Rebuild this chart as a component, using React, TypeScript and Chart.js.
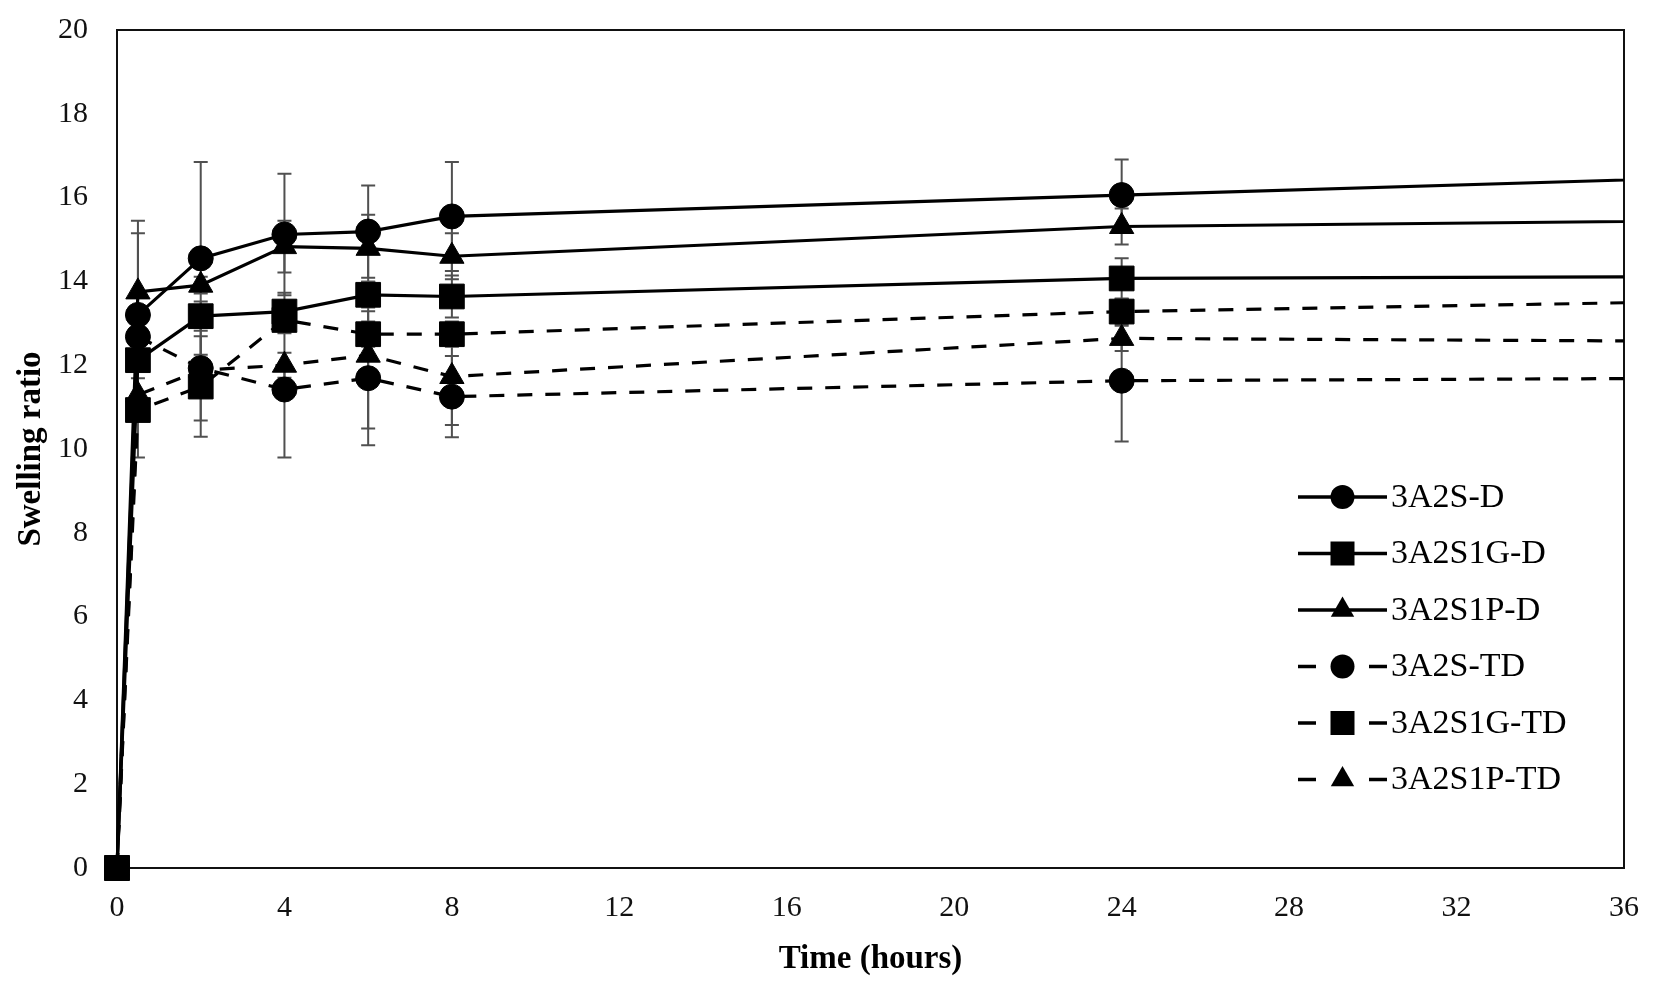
import React, { useEffect, useRef } from 'react';
import { Chart, registerables } from 'chart.js';

Chart.register(...registerables);

// ---- data ----
const times = [0, 0.5, 2, 4, 6, 8, 24, 48];

const labels = ['3A2S-D', '3A2S1G-D', '3A2S1P-D', '3A2S-TD', '3A2S1G-TD', '3A2S1P-TD'];

const s3A2S_D = [0, 13.2, 14.55, 15.12, 15.19, 15.55, 16.06, 16.78];
const s3A2S1G_D = [0, 12.12, 13.17, 13.28, 13.68, 13.64, 14.07, 14.15];
const s3A2S1P_D = [0, 13.75, 13.91, 14.83, 14.79, 14.6, 15.31, 15.55];
const s3A2S_TD = [0, 12.68, 11.93, 11.42, 11.69, 11.25, 11.63, 11.73];
const s3A2S1G_TD = [0, 10.93, 11.49, 13.08, 12.74, 12.74, 13.28, 13.7];
const s3A2S1P_TD = [0, 11.29, 11.88, 12.0, 12.24, 11.73, 12.64, 12.52];

const e3A2S_D = [null, 1.95, 2.3, 1.45, 1.1, 1.3, 0.85, null];
const e3A2S1G_D = [null, null, 0.35, 0.45, 0.3, 0.5, 0.48, null];
const e3A2S1P_D = [null, 1.7, 0.2, 0.62, 0.8, 0.55, 0.43, null];
const e3A2S_TD = [null, null, 1.25, 1.62, 1.6, 0.97, 1.45, null];
const e3A2S1G_TD = [null, 1.13, 1.2, 0.32, 0.3, 0.3, 0.3, null];
const e3A2S1P_TD = [null, 0.4, 0.3, 0.3, 1.75, 1.16, 0.3, null];

const seriesValues = [s3A2S_D, s3A2S1G_D, s3A2S1P_D, s3A2S_TD, s3A2S1G_TD, s3A2S1P_TD];
const seriesErrors = [e3A2S_D, e3A2S1G_D, e3A2S1P_D, e3A2S_TD, e3A2S1G_TD, e3A2S1P_TD];
const seriesMarkers = ['circle', 'rect', 'triangle', 'circle', 'rect', 'triangle'];
const seriesDashed = [false, false, false, true, true, true];

const xMin = 0, xMax = 36, xStep = 4;
const yMin = 0, yMax = 20, yStep = 2;

const FONT = "'Liberation Serif', 'Times New Roman', serif";
const markerRadius: Record<string, number> = { circle: 12.5, rect: 17.5, triangle: 14 };

function drawMarker(ctx: CanvasRenderingContext2D, style: string, x: number, y: number) {
  ctx.beginPath();
  if (style === 'circle') {
    ctx.arc(x, y, 12, 0, Math.PI * 2);
  } else if (style === 'rect') {
    ctx.rect(x - 12, y - 12, 24, 24);
  } else {
    const r = 13.5;
    ctx.moveTo(x, y - r);
    ctx.lineTo(x + r * Math.sin(Math.PI * 2 / 3), y + r * 0.5);
    ctx.lineTo(x - r * Math.sin(Math.PI * 2 / 3), y + r * 0.5);
    ctx.closePath();
  }
  ctx.fill();
}

const boxAndErrorPlugin = {
  id: 'boxAndErrors',
  beforeDatasetsDraw(chart: any) {
    const { ctx, chartArea: a, scales } = chart;
    const x = scales.x, y = scales.y;
    ctx.save();
    ctx.strokeStyle = '#111';
    ctx.lineWidth = 2;
    ctx.strokeRect(a.left, a.top, a.right - a.left, a.bottom - a.top);
    ctx.strokeStyle = '#505050';
    ctx.lineWidth = 2;
    seriesValues.forEach((vals, si) => {
      const errs = seriesErrors[si];
      vals.forEach((v, i) => {
        const e = errs[i];
        if (e == null || times[i] > xMax) return;
        const px = x.getPixelForValue(times[i]);
        const top = y.getPixelForValue(v + e);
        const bot = y.getPixelForValue(v - e);
        ctx.beginPath();
        ctx.moveTo(px, top);
        ctx.lineTo(px, bot);
        ctx.moveTo(px - 7, top);
        ctx.lineTo(px + 7, top);
        ctx.moveTo(px - 7, bot);
        ctx.lineTo(px + 7, bot);
        ctx.stroke();
      });
    });
    ctx.restore();
  },
};

const legendPlugin = {
  id: 'customLegend',
  afterDraw(chart: any) {
    const { ctx, chartArea: a } = chart;
    const x0 = a.right - 326;
    const x1 = a.right - 237;
    const xm = (x0 + x1) / 2;
    const tx = a.right - 233;
    ctx.save();
    labels.forEach((lab, i) => {
      const yy = a.top + 467 + i * 56.5;
      ctx.strokeStyle = '#000';
      ctx.fillStyle = '#000';
      ctx.lineWidth = 3.5;
      ctx.beginPath();
      if (seriesDashed[i]) {
        ctx.moveTo(x0, yy); ctx.lineTo(x0 + 18, yy);
        ctx.moveTo(x1 - 18, yy); ctx.lineTo(x1, yy);
      } else {
        ctx.moveTo(x0, yy); ctx.lineTo(x1, yy);
      }
      ctx.stroke();
      drawMarker(ctx, seriesMarkers[i], xm, yy);
      ctx.font = `34px ${FONT}`;
      ctx.textAlign = 'left';
      ctx.textBaseline = 'middle';
      ctx.fillText(lab, tx, yy + 1);
    });
    ctx.restore();
  },
};

export default function App() {
  const ref = useRef<HTMLCanvasElement>(null);

  useEffect(() => {
    document.body.style.margin = '0';
    document.body.style.overflow = 'hidden';
    if (!ref.current) return;
    const datasets = labels.map((lab, si) => ({
      label: lab,
      data: times.map((t, i) => ({ x: t, y: seriesValues[si][i] })),
      borderColor: '#000',
      backgroundColor: '#000',
      borderWidth: 3.2,
      borderDash: seriesDashed[si] ? [15, 13] : [],
      pointStyle: seriesMarkers[si],
      pointRadius: markerRadius[seriesMarkers[si]],
      pointHoverRadius: markerRadius[seriesMarkers[si]],
      pointBorderWidth: 1,
      pointBorderColor: '#000',
      pointBackgroundColor: '#000',
      tension: 0,
      fill: false,
      clip: { left: false, top: false, right: 0, bottom: false },
    }));

    const chart = new Chart(ref.current, {
      type: 'line',
      data: { datasets: datasets as any },
      options: {
        animation: false,
        responsive: true,
        maintainAspectRatio: false,
        layout: { padding: { top: 30, right: 29, left: 0, bottom: 0 } },
        plugins: {
          legend: { display: false },
          tooltip: { enabled: false },
        },
        scales: {
          x: {
            type: 'linear',
            min: xMin,
            max: xMax,
            grid: { display: false, drawTicks: true, tickLength: 19 },
            border: { display: false },
            ticks: {
              stepSize: xStep,
              padding: 3,
              color: '#111',
              font: { family: FONT, size: 30 },
              maxRotation: 0,
            },
            title: {
              display: true,
              text: 'Time (hours)',
              color: '#000',
              font: { family: FONT, size: 33, weight: 'bold' },
              padding: { top: 0, bottom: 2 },
            },
            afterFit: (scale: any) => { scale.height = 113; },
          },
          y: {
            type: 'linear',
            min: yMin,
            max: yMax,
            grid: { display: false, drawTicks: true, tickLength: 26 },
            border: { display: false },
            ticks: {
              stepSize: yStep,
              padding: 3,
              color: '#111',
              font: { family: FONT, size: 30 },
            },
            title: {
              display: true,
              text: 'Swelling ratio',
              color: '#000',
              font: { family: FONT, size: 33, weight: 'bold' },
              padding: { top: 12, bottom: 0 },
            },
            afterFit: (scale: any) => { scale.width = 117; },
          },
        },
      },
      plugins: [boxAndErrorPlugin, legendPlugin],
    });
    return () => chart.destroy();
  }, []);

  return (
    <div style={{ width: 1653, height: 981, position: 'relative', background: '#fff' }}>
      <canvas ref={ref} />
    </div>
  );
}
